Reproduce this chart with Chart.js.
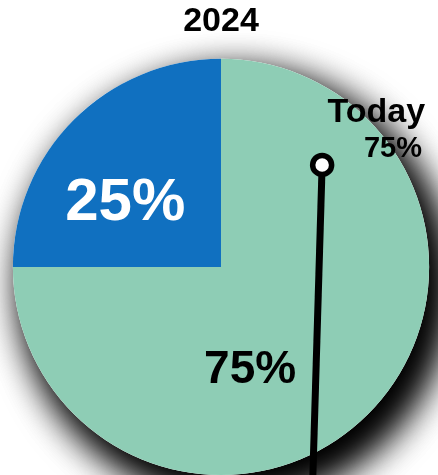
<!DOCTYPE html>
<html>
<head>
<meta charset="utf-8">
<script src="https://cdn.jsdelivr.net/npm/chart.js@4.4.1/dist/chart.umd.min.js"></script>
<style>
  html, body { margin: 0; padding: 0; background: #fff; }
  #wrap { width: 438px; height: 475px; position: relative; }
</style>
</head>
<body>
<div id="wrap"><canvas id="chart"></canvas></div>
<script>
const title = "2024"
const labels = ["Elapsed", "Remaining"]
const values = [75, 25]
const sliceColors = ["#8ecdb5", "#1070c0"]
const todayLabel = "Today"
const todayValue = 75

const FONT = "'Liberation Sans', Arial, Helvetica, sans-serif"

// slice label positions as fractions of the radius from the centre
const labelOffsets = [[0.14, 0.495], [-0.46, -0.305]]
const labelStyles = [
  { size: 46, color: "#000" },
  { size: 60, color: "#fff" }
]

const pieShadow = {
  id: "pieShadow",
  beforeDatasetsDraw(chart) {
    const arc = chart.getDatasetMeta(0).data[0]
    if (!arc) return
    const ctx = chart.ctx
    ctx.save()
    ctx.shadowColor = "rgba(0, 0, 0, 1)"
    ctx.shadowBlur = 40
    ctx.shadowOffsetX = 14
    ctx.shadowOffsetY = 18
    ctx.fillStyle = "#fff"
    for (let k = 0; k < 2; k++) {
      ctx.beginPath()
      ctx.arc(arc.x, arc.y, arc.outerRadius, 0, Math.PI * 2)
      ctx.fill()
    }
    ctx.restore()
  }
}

const pieLabels = {
  id: "pieLabels",
  afterDatasetsDraw(chart) {
    const meta = chart.getDatasetMeta(0)
    const arc = meta.data[0]
    if (!arc) return
    const ctx = chart.ctx
    const cx = arc.x
    const cy = arc.y
    const r = arc.outerRadius

    ctx.save()
    ctx.textAlign = "center"
    ctx.textBaseline = "middle"
    values.forEach((v, i) => {
      const [fx, fy] = labelOffsets[i]
      ctx.font = `bold ${labelStyles[i].size}px ${FONT}`
      ctx.fillStyle = labelStyles[i].color
      ctx.fillText(v + "%", cx + fx * r, cy + fy * r)
    })

    // "today" pointer
    const topX = cx + 0.486 * r
    const topY = cy - 0.49 * r
    const botX = cx + 0.44 * r
    const botY = cy + 1.05 * r
    ctx.strokeStyle = "#000"
    ctx.lineWidth = 7
    ctx.beginPath()
    ctx.moveTo(topX, topY)
    ctx.lineTo(botX, botY)
    ctx.stroke()

    ctx.beginPath()
    ctx.arc(topX, topY, 9.5, 0, Math.PI * 2)
    ctx.fillStyle = "#fff"
    ctx.fill()
    ctx.lineWidth = 5.5
    ctx.stroke()

    ctx.fillStyle = "#000"
    ctx.textAlign = "right"
    ctx.textBaseline = "alphabetic"
    ctx.font = `bold 34px ${FONT}`
    ctx.fillText(todayLabel, cx + 0.981 * r, cy - 0.697 * r)
    ctx.font = `bold 29px ${FONT}`
    ctx.fillText(todayValue + "%", cx + 0.966 * r, cy - 0.529 * r)
    ctx.restore()
  }
}

new Chart(document.getElementById("chart"), {
  type: "pie",
  data: {
    labels: labels,
    datasets: [{
      data: values,
      backgroundColor: sliceColors,
      borderWidth: 0,
      hoverOffset: 0
    }]
  },
  options: {
    responsive: true,
    maintainAspectRatio: false,
    animation: false,
    layout: { padding: { left: 4, right: 0, top: 0, bottom: 0 } },
    plugins: {
      legend: { display: false },
      tooltip: { enabled: false },
      title: {
        display: true,
        text: title,
        color: "#000",
        font: { family: FONT, size: 34, weight: "bold", lineHeight: 1.2 },
        padding: { top: 1, bottom: 17 }
      }
    }
  },
  plugins: [pieShadow, pieLabels]
})
</script>
</body>
</html>
